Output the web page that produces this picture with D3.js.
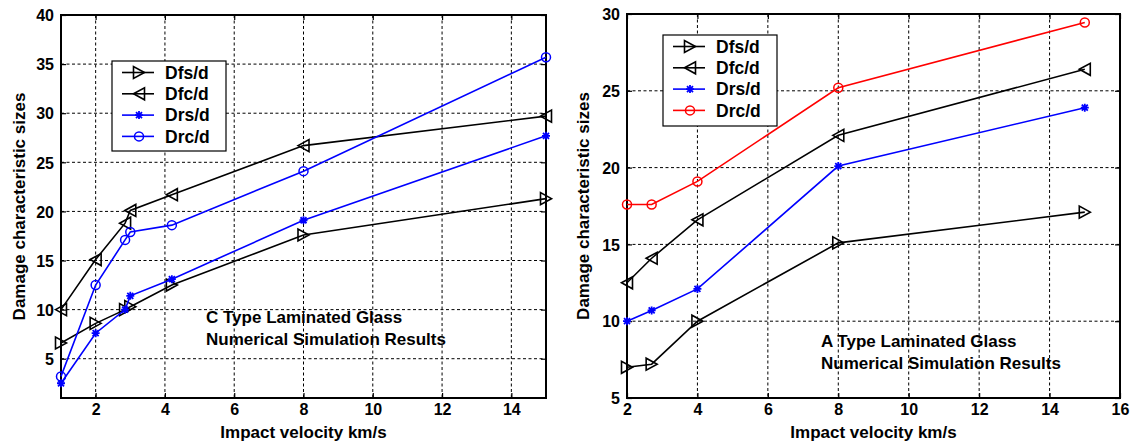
<!doctype html>
<html>
  <head>
    <title>Damage characteristic sizes</title>
    <style>
      body { margin: 0; background: #fff; }
      text { font-family: 'Liberation Sans', Arial, sans-serif; font-weight: bold; }
    </style>
  </head>
  <body>
    <svg width='1135' height='446'></svg>

  <script src='https://d3js.org/d3.v7.min.js'></script>
  <script>
// C type laminated glass (left panel)
var cVelocity = [1, 2, 2.85, 3, 4.2, 8, 15];
var cDfs = [6.6, 8.6, 10.0, 10.3, 12.5, 17.6, 21.3];
var cDfc = [10.0, 15.1, 18.8, 20.1, 21.7, 26.7, 29.7];
var cDrs = [2.5, 7.6, 10.0, 11.4, 13.1, 19.1, 27.7];
var cDrc = [3.2, 12.5, 17.1, 17.9, 18.6, 24.1, 35.7];

// A type laminated glass (right panel)
var aVelocity = [2, 2.7, 4, 8, 15];
var aDfs = [7.0, 7.2, 10.0, 15.1, 17.1];
var aDfc = [12.5, 14.1, 16.6, 22.1, 26.4];
var aDrs = [10.0, 10.7, 12.1, 20.1, 23.9];
var aDrc = [17.6, 17.6, 19.1, 25.2, 29.45];

var seriesNames = ['Dfs/d', 'Dfc/d', 'Drs/d', 'Drc/d'];
var cXTicks = [2, 4, 6, 8, 10, 12, 14];
var cYTicks = [5, 10, 15, 20, 25, 30, 35, 40];
var aXTicks = [2, 4, 6, 8, 10, 12, 14, 16];
var aYTicks = [5, 10, 15, 20, 25, 30];

var svg = d3.select('svg');

// marker shapes, centred on the data point
function drawMarker(g, type, color) {
  if (type === 'right') {
    g.append('path').attr('d', 'M5.5,0L-5.5,-6L-5.5,6Z')
      .attr('fill', 'none').attr('stroke', color).attr('stroke-width', 1.6);
  } else if (type === 'left') {
    g.append('path').attr('d', 'M-5.5,0L5.5,-6L5.5,6Z')
      .attr('fill', 'none').attr('stroke', color).attr('stroke-width', 1.6);
  } else if (type === 'star') {
    g.append('path').attr('d', 'M-4,0L4,0M0,-4L0,4M-3,-3L3,3M-3,3L3,-3')
      .attr('fill', 'none').attr('stroke', color).attr('stroke-width', 1.8);
  } else if (type === 'circle') {
    g.append('circle').attr('r', 4.5)
      .attr('fill', 'none').attr('stroke', color).attr('stroke-width', 1.5);
  }
}

function drawPanel(p) {
  var x = d3.scaleLinear().domain(p.xDomain).range([p.left, p.right]);
  var y = d3.scaleLinear().domain(p.yDomain).range([p.bottom, p.top]);
  var g = svg.append('g');

  // dotted grid
  g.append('g').selectAll('line').data(p.xTicks.filter(function(t) { return t > p.xDomain[0] && t < p.xDomain[1]; }))
    .enter().append('line')
    .attr('x1', function(d) { return x(d); }).attr('x2', function(d) { return x(d); })
    .attr('y1', p.top).attr('y2', p.bottom)
    .attr('stroke', '#000').attr('stroke-width', 1).attr('stroke-dasharray', '3,2.5');
  g.append('g').selectAll('line').data(p.yTicks.filter(function(t) { return t > p.yDomain[0] && t < p.yDomain[1]; }))
    .enter().append('line')
    .attr('x1', p.left).attr('x2', p.right)
    .attr('y1', function(d) { return y(d); }).attr('y2', function(d) { return y(d); })
    .attr('stroke', '#000').attr('stroke-width', 1).attr('stroke-dasharray', '3,2.5');

  // axes with inward ticks
  var xAxis = g.append('g').attr('transform', 'translate(0,' + p.bottom + ')')
    .call(d3.axisBottom(x).tickValues(p.xTicks).tickSize(-5).tickPadding(6).tickFormat(d3.format('d')));
  var yAxis = g.append('g').attr('transform', 'translate(' + p.left + ',0)')
    .call(d3.axisLeft(y).tickValues(p.yTicks).tickSize(-5).tickPadding(7).tickFormat(d3.format('d')));
  [xAxis, yAxis].forEach(function(a) {
    a.select('.domain').remove();
    a.selectAll('.tick line').attr('stroke', '#000').attr('stroke-width', 1.2);
    a.selectAll('.tick text').attr('font-size', 16).attr('fill', '#000');
  });
  yAxis.selectAll('.tick text').attr('dy', '0.36em');
  // ticks on top and right edges too
  g.append('g').attr('transform', 'translate(0,' + p.top + ')')
    .call(d3.axisTop(x).tickValues(p.xTicks).tickSize(-5).tickFormat(''))
    .call(function(a) { a.select('.domain').remove(); a.selectAll('line').attr('stroke-width', 1.2); });
  g.append('g').attr('transform', 'translate(' + p.right + ',0)')
    .call(d3.axisRight(y).tickValues(p.yTicks).tickSize(-5).tickFormat(''))
    .call(function(a) { a.select('.domain').remove(); a.selectAll('line').attr('stroke-width', 1.2); });

  g.append('rect')
    .attr('x', p.left).attr('y', p.top)
    .attr('width', p.right - p.left).attr('height', p.bottom - p.top)
    .attr('fill', 'none').attr('stroke', '#000').attr('stroke-width', 2);

  // series
  var line = d3.line()
    .x(function(d) { return x(d[0]); })
    .y(function(d) { return y(d[1]); });
  p.series.forEach(function(s) {
    var pts = d3.zip(p.velocity, s.values);
    g.append('path').datum(pts).attr('d', line)
      .attr('fill', 'none').attr('stroke', s.color).attr('stroke-width', 1.6);
    pts.forEach(function(d) {
      var m = g.append('g').attr('transform', 'translate(' + x(d[0]) + ',' + y(d[1]) + ')');
      drawMarker(m, s.marker, s.color);
    });
  });

  // legend
  var lg = svg.append('g');
  lg.append('rect')
    .attr('x', p.legend.x).attr('y', p.legend.y)
    .attr('width', p.legend.w).attr('height', p.legend.h)
    .attr('fill', '#fff').attr('stroke', '#000').attr('stroke-width', 1.2);
  p.series.forEach(function(s, i) {
    var cy = p.legend.y + 11.5 + i * 21.3;
    var x0 = p.legend.x + 10, x1 = p.legend.x + 42;
    lg.append('line').attr('x1', x0).attr('x2', x1).attr('y1', cy).attr('y2', cy)
      .attr('stroke', s.color).attr('stroke-width', 1.6);
    drawMarker(lg.append('g').attr('transform', 'translate(' + ((x0 + x1) / 2 + 1) + ',' + cy + ')'), s.marker, s.color);
    lg.append('text').attr('x', p.legend.x + 53).attr('y', cy).attr('dy', '0.36em')
      .attr('font-size', 17.5).text(s.name);
  });

  // axis titles
  svg.append('text')
    .attr('x', (p.left + p.right) / 2).attr('y', 438)
    .attr('text-anchor', 'middle').attr('font-size', 17)
    .text('Impact velocity km/s');
  svg.append('text')
    .attr('transform', 'translate(' + p.yLabelX + ',' + ((p.top + p.bottom) / 2) + ') rotate(-90)')
    .attr('text-anchor', 'middle').attr('font-size', 17)
    .text('Damage characteristic sizes');

  // annotation
  p.note.lines.forEach(function(t, i) {
    svg.append('text').attr('x', p.note.x).attr('y', p.note.y + i * 21.5)
      .attr('font-size', 17).text(t);
  });
}

drawPanel({
  left: 61, right: 546, top: 15, bottom: 398,
  xDomain: [1, 15], yDomain: [1, 40],
  xTicks: cXTicks, yTicks: cYTicks,
  velocity: cVelocity,
  series: [
    { name: seriesNames[0], values: cDfs, color: '#000', marker: 'right' },
    { name: seriesNames[1], values: cDfc, color: '#000', marker: 'left' },
    { name: seriesNames[2], values: cDrs, color: '#0000ff', marker: 'star' },
    { name: seriesNames[3], values: cDrc, color: '#0000ff', marker: 'circle' }
  ],
  legend: { x: 112, y: 61, w: 114, h: 90 },
  yLabelX: 25,
  note: { x: 206, y: 323, lines: ['C Type Laminated Glass', 'Numerical Simulation Results'] }
});

drawPanel({
  left: 627, right: 1120, top: 14, bottom: 398,
  xDomain: [2, 16], yDomain: [5, 30],
  xTicks: aXTicks, yTicks: aYTicks,
  velocity: aVelocity,
  series: [
    { name: seriesNames[0], values: aDfs, color: '#000', marker: 'right' },
    { name: seriesNames[1], values: aDfc, color: '#000', marker: 'left' },
    { name: seriesNames[2], values: aDrs, color: '#0000ff', marker: 'star' },
    { name: seriesNames[3], values: aDrc, color: '#ff0000', marker: 'circle' }
  ],
  legend: { x: 663, y: 35, w: 114, h: 91 },
  yLabelX: 589,
  note: { x: 821, y: 347, lines: ['A Type Laminated Glass', 'Numerical Simulation Results'] }
});
  </script>
  </body>
</html>
